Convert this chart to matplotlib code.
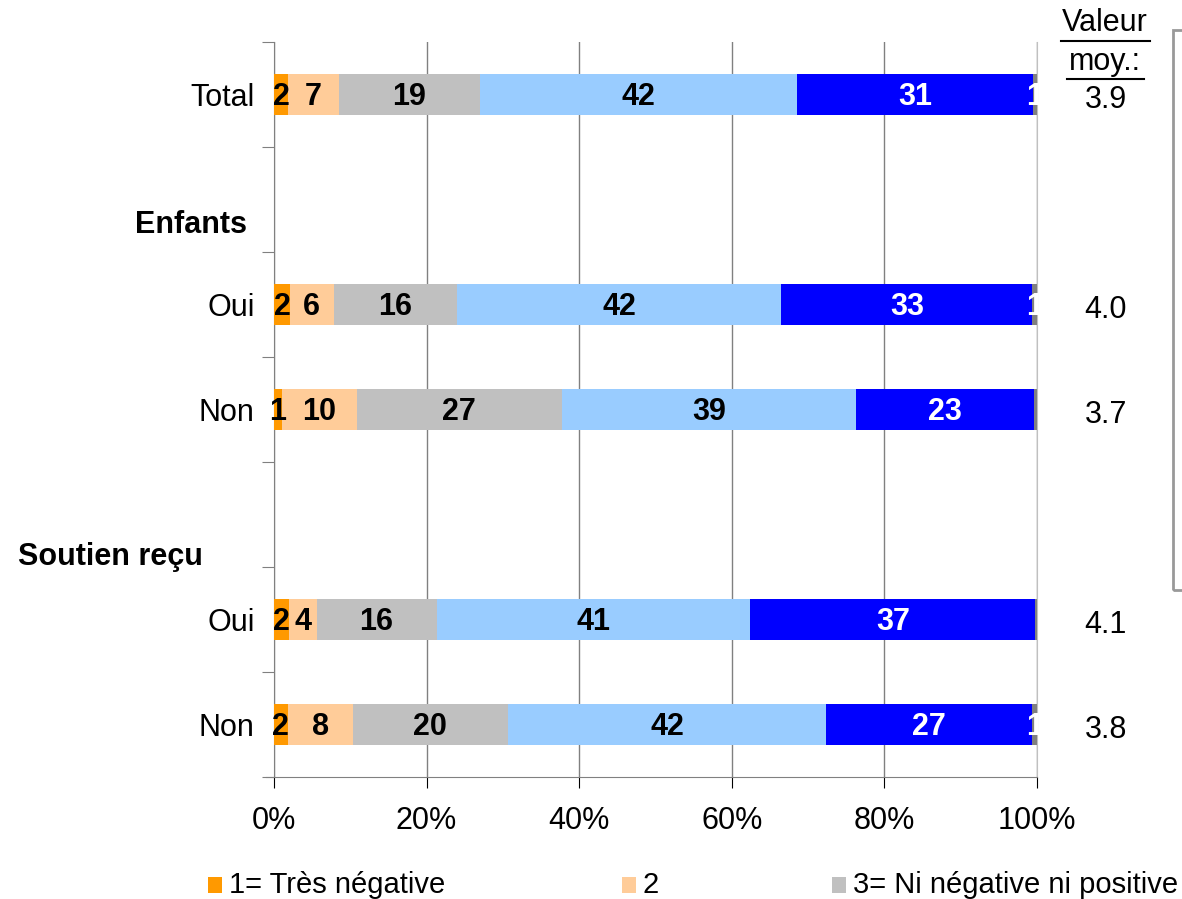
import numpy as np
import matplotlib.pyplot as plt
from matplotlib.patches import Rectangle

plt.rcParams['font.family'] = ['Liberation Sans', 'DejaVu Sans']

rows = ["Total", "Oui", "Non", "Oui", "Non"]
slots = [0, 2, 3, 5, 6]
series = ["1= Très négative", "2", "3= Ni négative ni positive", "4", "5= Très positive", "n.r."]
colors = ["#FF9900", "#FFCC99", "#C0C0C0", "#99CCFF", "#0000FF", "#808080"]

vals = np.array([
    [1.9, 6.6, 18.5, 41.6, 30.9, 0.5],
    [2.1, 5.7, 16.2, 42.5, 32.9, 0.6],
    [1.0, 9.9, 26.8, 38.6, 23.3, 0.4],
    [2.0, 3.6, 15.7, 41.1, 37.4, 0.2],
    [1.8, 8.5, 20.4, 41.7, 26.9, 0.7],
])
labels = [
    ["2", "7", "19", "42", "31", "1"],
    ["2", "6", "16", "42", "33", "1"],
    ["1", "10", "27", "39", "23", ""],
    ["2", "4", "16", "41", "37", ""],
    ["2", "8", "20", "42", "27", "1"],
]
means = ["3.9", "4.0", "3.7", "4.1", "3.8"]
groups = [("Enfants", 1.24, -3.5), ("Soutien reçu", 4.4, -9.3)]

fs = 22
fig = plt.figure(figsize=(11.82, 8.99), dpi=100)
ax = fig.add_axes([274/1182, 1-777/899, (1037-274)/1182, (777-42)/899])

left = np.zeros(len(rows))
for j in range(len(series)):
    ax.barh(slots, vals[:, j], left=left, height=0.385, color=colors[j], zorder=3)
    for i in range(len(rows)):
        if labels[i][j]:
            tc = "white" if j >= 4 else "black"
            ax.text(left[i] + vals[i, j]/2, slots[i] + 0.02, labels[i][j], ha="center", va="center",
                    fontsize=fs, fontweight="bold", color=tc, zorder=4)
    left += vals[:, j]

ax.set_xlim(0, 100)
ax.set_ylim(6.5, -0.5)
ax.set_xticks(np.arange(0, 101, 20))
ax.set_xticklabels([f"{v}%" for v in range(0, 101, 20)], fontsize=fs)
ax.tick_params(axis="x", length=8, color="black", pad=13)
ax.set_yticks(np.arange(-0.5, 7, 1))
ax.set_yticklabels([])
ax.tick_params(axis="y", length=9, color="#808080", direction="out")
ax.set_yticks(slots, minor=True)
ax.set_yticklabels(rows, minor=True, fontsize=fs)
ax.tick_params(axis="y", which="minor", length=0, pad=14)
ax.grid(True, axis="x", color="#808080", linewidth=1, zorder=0)
ax.spines["top"].set_visible(False)
ax.spines["right"].set_color("#C0C0C0")
ax.spines["left"].set_color("#808080")
ax.spines["bottom"].set_color("#808080")
ax.spines["bottom"].set_bounds(-1.1, 100)

for name, y, x in groups:
    ax.text(x, y, name, ha="right", va="center", fontsize=fs, fontweight="bold")

fig.text(1105/1182, 1-23/899, "Valeur", ha="center", va="center", fontsize=fs)
fig.text(1105/1182, 1-62/899, "moy.:", ha="center", va="center", fontsize=fs)
fig.add_artist(plt.Line2D([1061/1182, 1150/1182], [1-41/899, 1-41/899], color="black", lw=1.5))
fig.add_artist(plt.Line2D([1067/1182, 1144/1182], [1-79/899, 1-79/899], color="black", lw=1.5))
for i, m in enumerate(means):
    ax.text(1.09, slots[i] + 0.05, m, transform=ax.get_yaxis_transform(), ha="center", va="center", fontsize=fs)

fig.add_artist(Rectangle((1173/1182, 1-590/899), 0.05, (590-30)/899, transform=fig.transFigure,
                         fill=False, edgecolor="#999999", lw=2))

leg_x = [208, 622, 832]
for k in range(3):
    fig.add_artist(Rectangle((leg_x[k]/1182, 1-893/899), 14/1182, 16/899, transform=fig.transFigure,
                             color=colors[k], lw=0))
    fig.text((leg_x[k]+21)/1182, 1-885/899, series[k], ha="left", va="center", fontsize=21)

fig.savefig("out.png", dpi=100)
